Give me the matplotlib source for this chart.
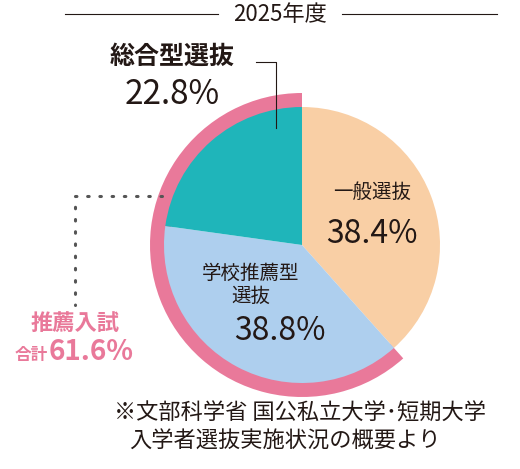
import matplotlib
matplotlib.use("Agg")
import matplotlib.pyplot as plt

plt.rcParams['font.family'] = ['Noto Sans CJK JP', 'DejaVu Sans']

labels = ["一般選抜", "学校推薦型\n選抜", "総合型選抜"]
values = [38.4, 38.8, 22.8]
colors = ["#F9CFA5", "#AECFEE", "#1FB5BA"]
suisen_total = 61.6
H = 469

fig = plt.figure(figsize=(5.2, 4.69), dpi=100)
ax = fig.add_axes([0, 0, 1, 1])

cx, cy, r = 302, H - 245, 138

# pink ring behind the recommendation slices
ring, _ = ax.pie([values[0], suisen_total], radius=r + 14, center=(cx, cy), startangle=90,
                 counterclock=False, colors=["none", "#E9799A"],
                 wedgeprops=dict(width=20, linewidth=0), frame=True)
ring[0].set_visible(False)
for w in ring:
    w.set_zorder(1)
wedges, _ = ax.pie(values, radius=r, center=(cx, cy), startangle=90, counterclock=False,
                   colors=colors, wedgeprops=dict(linewidth=0), frame=True)
for w in wedges:
    w.set_zorder(2)
ax.set_xlim(0, 520)
ax.set_ylim(0, H)
ax.set_aspect("equal")
ax.axis("off")

ink = "#231815"
pink = "#E9799A"
ax.text(280, H - 14, "2025年度", ha="center", va="center", fontsize=16, color=ink, zorder=5)
ax.plot([65, 218], [H - 14, H - 14], color=ink, lw=0.8)
ax.plot([342, 497], [H - 14, H - 14], color=ink, lw=0.8)

ax.text(372, H - 192, "一般選抜", ha="center", va="center", fontsize=14, color=ink, zorder=5)
ax.text(372, H - 234, f"{values[0]}%", ha="center", va="center", fontsize=23, color=ink, zorder=5)
ax.text(251, H - 285, labels[1], ha="center", va="center", fontsize=14, color=ink,
        linespacing=1.15, zorder=5)
ax.text(280, H - 331, f"{values[1]}%", ha="center", va="center", fontsize=23, color=ink, zorder=5)

ax.text(172, H - 57, labels[2], ha="center", va="center", fontsize=18, fontweight="bold",
        color=ink)
ax.text(172, H - 94, f"{values[2]}%", ha="center", va="center", fontsize=24, color=ink)
ax.plot([256, 276, 276], [H - 62, H - 62, H - 128], color=ink, lw=0.8, zorder=5)

ax.plot([162, 75, 75], [H - 196, H - 196, H - 305], color="#555555", lw=2.2,
        linestyle=(0, (0.5, 3.5)), dash_capstyle="round")
ax.text(75, H - 323, "推薦入試", ha="center", va="center", fontsize=16, fontweight="bold",
        color=pink)
ax.text(48, H - 355, "合計", ha="right", va="center", fontsize=12, fontweight="bold", color=pink)
ax.text(49, H - 352, f"{suisen_total}%", ha="left", va="center", fontsize=20,
        fontweight="bold", color=pink)

ax.text(300, H - 413, "※文部科学省 国公私立大学･短期大学", ha="center", va="center",
        fontsize=16, color=ink)
ax.text(285, H - 441, "入学者選抜実施状況の概要より", ha="center", va="center",
        fontsize=16, color=ink)

fig.savefig("out.png", dpi=100)
